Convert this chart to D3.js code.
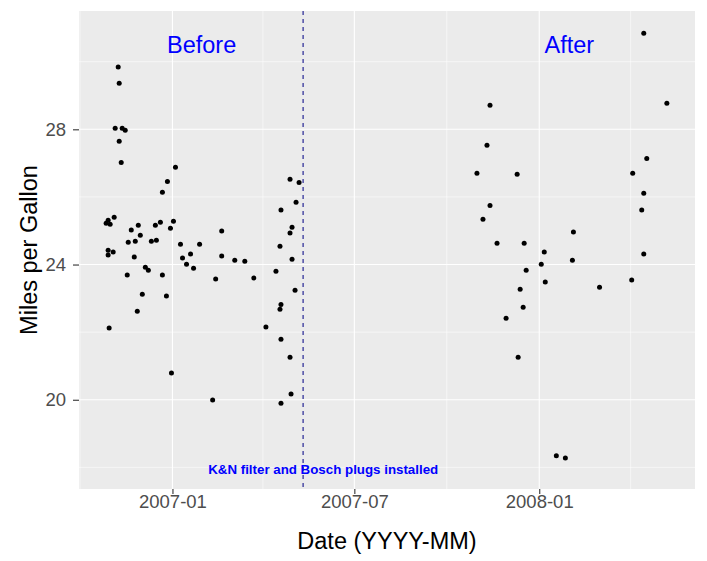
<!DOCTYPE html>
<html lang="en">
<head>
  <meta charset="UTF-8" />
  <title>Miles per Gallon, before and after</title>
  <script src="https://d3js.org/d3.v7.min.js"></script>
  <style>
    body { margin: 0; background: #fff; }
    text { font-family: "Liberation Sans", Arial, sans-serif; }
    .tick-label { fill: #4d4d4d; font-size: 18.5px; }
    .axis-title { fill: #000; font-size: 23.5px; }
  </style>
</head>
<body>
<div id="chart"></div>
<script>
// Chart size and panel margins
const width = 707, height = 561;
const margin = { top: 11, right: 12, bottom: 72, left: 79 };

// Fill-up dates and mileage
const fillDates = [
  "2006-11-08", "2006-11-09", "2006-11-05", "2006-11-12", "2006-11-15", "2006-11-09",
  "2006-11-11", "2007-01-04", "2006-12-27", "2006-12-22", "2006-11-04", "2006-10-29",
  "2006-10-27", "2006-10-31", "2007-01-02", "2006-12-20", "2006-11-28", "2006-12-15",
  "2006-12-30", "2006-11-21", "2006-11-30", "2006-11-18", "2006-11-25", "2006-12-11",
  "2006-12-16", "2007-01-09", "2007-01-28", "2006-10-29", "2006-11-03", "2006-10-29",
  "2006-11-24", "2007-01-19", "2007-01-11", "2007-01-15", "2007-01-22", "2006-12-05",
  "2006-12-08", "2006-11-17", "2006-12-22", "2006-12-02", "2006-12-26", "2006-11-27",
  "2006-10-30", "2006-12-31", "2007-02-10", "2007-02-19", "2007-02-19", "2007-03-04",
  "2007-03-14", "2007-02-13", "2007-03-23", "2007-04-04", "2007-04-28", "2007-05-07",
  "2007-05-04", "2007-04-19", "2007-04-30", "2007-04-28", "2007-04-18", "2007-04-30",
  "2007-04-14", "2007-05-03", "2007-04-19", "2007-04-18", "2007-04-19", "2007-04-28",
  "2007-04-29", "2007-04-19",
  // after the change
  "2008-04-14", "2007-11-13", "2008-05-07", "2007-11-10", "2008-04-17", "2007-10-31",
  "2007-12-10", "2008-04-03", "2008-04-14", "2007-11-13", "2008-04-12", "2007-11-06",
  "2008-02-04", "2007-11-20", "2007-12-17", "2008-01-06", "2008-02-03", "2008-04-14",
  "2008-01-03", "2007-12-19", "2008-01-07", "2008-03-01", "2008-04-02", "2007-12-13",
  "2007-12-16", "2007-11-29", "2007-12-11", "2008-01-18", "2008-01-27"
];
const fillMpg = [
  29.84, 29.36, 28.03, 28.03, 27.97, 27.65,
  27.02, 26.88, 26.46, 26.14, 25.40, 25.31,
  25.22, 25.19, 25.28, 25.25, 25.16, 25.16,
  25.07, 25.02, 24.87, 24.66, 24.69, 24.69,
  24.72, 24.60, 24.60, 24.42, 24.37, 24.28,
  24.22, 24.31, 24.19, 24.01, 23.89, 23.92,
  23.83, 23.69, 23.69, 23.12, 23.07, 22.62,
  22.12, 20.79, 19.99, 24.99, 24.25, 24.13,
  24.10, 23.57, 23.60, 22.15, 26.52, 26.43,
  25.84, 25.61, 25.10, 24.93, 24.54, 24.16,
  23.80, 23.24, 22.82, 22.68, 21.79, 21.26,
  20.17, 19.90,
  30.84, 28.71, 28.77, 27.53, 27.14, 26.70,
  26.67, 26.70, 26.11, 25.75, 25.61, 25.34,
  24.96, 24.63, 24.63, 24.37, 24.13, 24.31,
  24.01, 23.83, 23.48, 23.33, 23.54, 23.27,
  22.74, 22.41, 21.26, 18.34, 18.28
];

// Axis breaks and labels
const xBreaks = ["2007-01-01", "2007-07-01", "2008-01-01"];
const xMinorBreaks = ["2006-10-01", "2007-04-01", "2007-10-01", "2008-04-01"];
const yBreaks = [20, 24, 28];
const yMinorBreaks = [18, 22, 26, 30];
const xLimits = ["2006-09-30", "2008-06-04"];
const yLimits = [17.36, 31.5];

// Annotations
const changeDate = "2007-05-11";
const changeNote = "K&N filter and Bosch plugs installed";
const noteDate = "2007-05-31", noteMpg = 17.81;
const periodLabels = ["Before", "After"];
const periodDates = ["2007-01-30", "2008-01-31"];
const periodMpg = 30.25;

const parse = d3.utcParse("%Y-%m-%d");
const points = fillDates.map((d, i) => ({ date: parse(d), mpg: fillMpg[i] }));

const svg = d3.select("#chart").append("svg")
  .attr("width", width)
  .attr("height", height);

const x = d3.scaleUtc()
  .domain(xLimits.map(parse))
  .range([margin.left, width - margin.right]);
const y = d3.scaleLinear()
  .domain(yLimits)
  .range([height - margin.bottom, margin.top]);

// Grey panel
svg.append("rect")
  .attr("x", margin.left).attr("y", margin.top)
  .attr("width", width - margin.left - margin.right)
  .attr("height", height - margin.top - margin.bottom)
  .attr("fill", "#ebebeb");

// Grid lines, minor first
const grid = svg.append("g");
grid.selectAll(".xminor").data(xMinorBreaks.map(parse)).join("line")
  .attr("x1", d => x(d)).attr("x2", d => x(d))
  .attr("y1", margin.top).attr("y2", height - margin.bottom)
  .attr("stroke", "#fff").attr("stroke-width", 0.55);
grid.selectAll(".yminor").data(yMinorBreaks).join("line")
  .attr("y1", d => y(d)).attr("y2", d => y(d))
  .attr("x1", margin.left).attr("x2", width - margin.right)
  .attr("stroke", "#fff").attr("stroke-width", 0.55);
grid.selectAll(".xmajor").data(xBreaks.map(parse)).join("line")
  .attr("x1", d => x(d)).attr("x2", d => x(d))
  .attr("y1", margin.top).attr("y2", height - margin.bottom)
  .attr("stroke", "#fff").attr("stroke-width", 1.1);
grid.selectAll(".ymajor").data(yBreaks).join("line")
  .attr("y1", d => y(d)).attr("y2", d => y(d))
  .attr("x1", margin.left).attr("x2", width - margin.right)
  .attr("stroke", "#fff").attr("stroke-width", 1.1);

// Axes
const xAxis = svg.append("g")
  .attr("transform", `translate(0,${height - margin.bottom})`)
  .call(d3.axisBottom(x).tickValues(xBreaks.map(parse))
    .tickFormat(d3.utcFormat("%Y-%m")).tickSize(5).tickPadding(1));
const yAxis = svg.append("g")
  .attr("transform", `translate(${margin.left},0)`)
  .call(d3.axisLeft(y).tickValues(yBreaks).tickSize(6).tickPadding(7));
[xAxis, yAxis].forEach(a => {
  a.select(".domain").remove();
  a.selectAll(".tick line").attr("stroke", "#333").attr("stroke-width", 1.1);
  a.selectAll(".tick text").attr("class", "tick-label").attr("font-size", null).attr("fill", null);
});

// Change-over line
svg.append("line")
  .attr("x1", x(parse(changeDate))).attr("x2", x(parse(changeDate)))
  .attr("y1", margin.top).attr("y2", height - margin.bottom)
  .attr("stroke", "#14148c").attr("stroke-width", 1.1)
  .attr("stroke-dasharray", "4,4");

// Points
svg.append("g").selectAll("circle").data(points).join("circle")
  .attr("cx", d => x(d.date))
  .attr("cy", d => y(d.mpg))
  .attr("r", 2.5)
  .attr("fill", "#000");

// Text labels
svg.selectAll(".period").data(periodLabels).join("text")
  .attr("x", (d, i) => x(parse(periodDates[i])))
  .attr("y", y(periodMpg))
  .attr("text-anchor", "middle")
  .attr("fill", "#0000ff")
  .attr("font-size", 23.5)
  .text(d => d);

svg.append("text")
  .attr("x", x(parse(noteDate)))
  .attr("y", y(noteMpg))
  .attr("text-anchor", "middle")
  .attr("fill", "#0000ff")
  .attr("font-size", 12.5)
  .attr("font-weight", "bold")
  .attr("textLength", 230)
  .attr("lengthAdjust", "spacingAndGlyphs")
  .text(changeNote);

// Axis titles
svg.append("text")
  .attr("class", "axis-title")
  .attr("x", (margin.left + width - margin.right) / 2)
  .attr("y", 549)
  .attr("text-anchor", "middle")
  .text("Date (YYYY-MM)");
svg.append("text")
  .attr("class", "axis-title")
  .attr("transform", `translate(37,${(margin.top + height - margin.bottom) / 2}) rotate(-90)`)
  .attr("text-anchor", "middle")
  .text("Miles per Gallon");
</script>
</body>
</html>
